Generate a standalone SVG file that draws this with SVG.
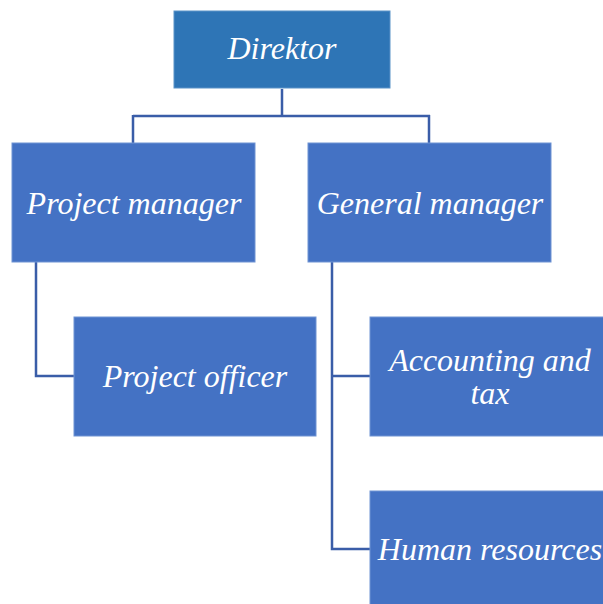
<svg xmlns="http://www.w3.org/2000/svg" width="603" height="604" viewBox="0 0 603 604">
<style>
.box{fill:#4472C4;stroke:#6E93D3;stroke-width:1}
.top{fill:#2E75B6;stroke:#5B93C8;stroke-width:1}
.lbl{font-family:"Liberation Serif","Times New Roman",serif;font-style:italic;font-size:32px;fill:#FFFFFF;text-anchor:middle}
.con{fill:none;stroke:#3A5DA8;stroke-width:2.5}
</style>
<rect width="603" height="604" fill="#FFFFFF"/>
<g id="connectors">
<path class="con" d="M282,89 V116 M133,116 H430 M133,115 V143 M429,115 V143"/>
<path class="con" d="M36,262 V376 H74"/>
<path class="con" d="M332,262 V549 H370 M332,376 H370"/>
</g>
<g id="direktor"><rect class="top" x="174" y="11" width="216" height="77"/><text class="lbl" x="282" y="59">Direktor</text></g>
<g id="project-manager"><rect class="box" x="12" y="143" width="243" height="119"/><text class="lbl" x="134" y="214">Project manager</text></g>
<g id="general-manager"><rect class="box" x="308" y="143" width="243" height="119"/><text class="lbl" x="430" y="214">General manager</text></g>
<g id="project-officer"><rect class="box" x="74" y="317" width="242" height="119"/><text class="lbl" x="195" y="387">Project officer</text></g>
<g id="accounting"><rect class="box" x="370" y="317" width="240" height="119"/><text class="lbl" x="490" y="371">Accounting and</text><text class="lbl" x="490" y="404">tax</text></g>
<g id="human-resources"><rect class="box" x="370" y="491" width="240" height="120"/><text class="lbl" x="490" y="560">Human resources</text></g>
</svg>
